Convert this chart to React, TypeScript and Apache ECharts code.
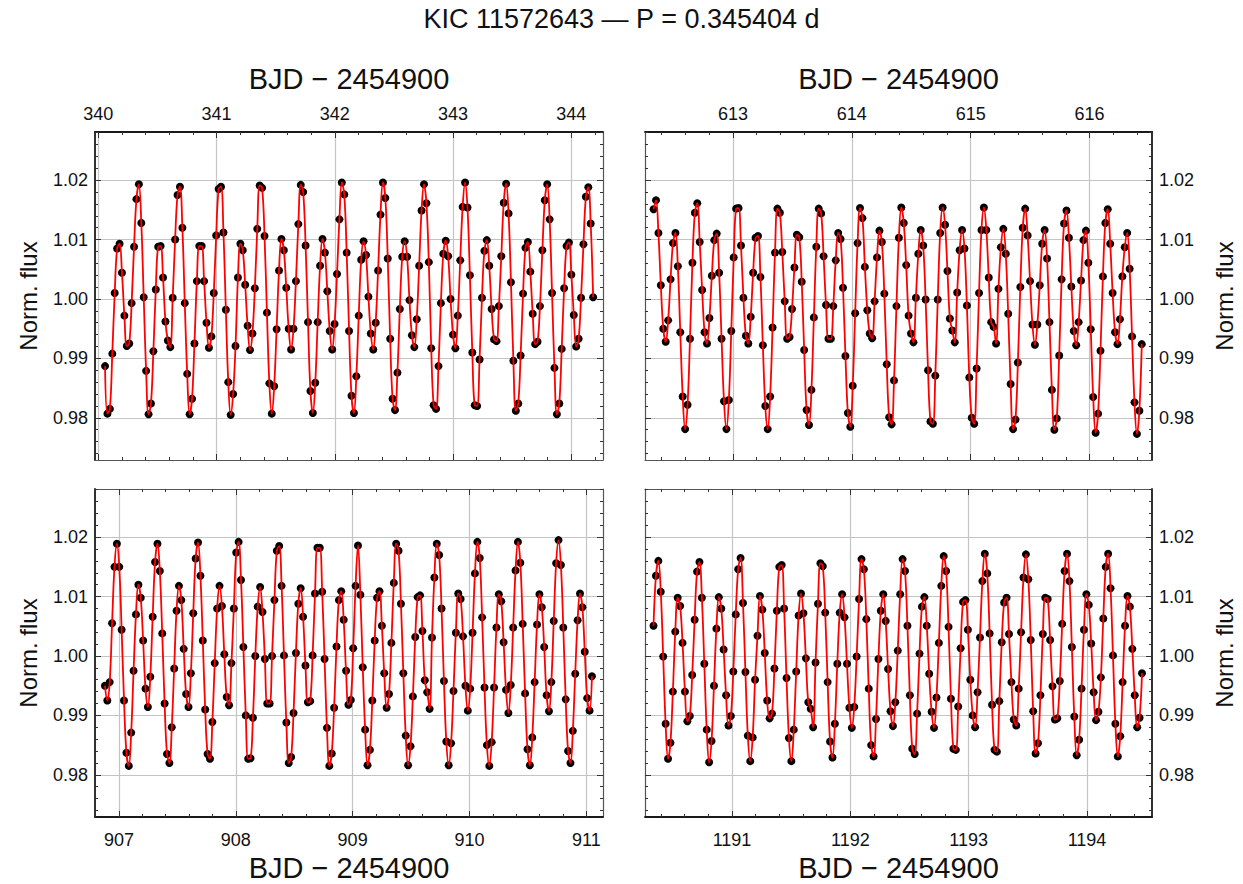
import React, { useEffect, useRef } from "react";
import * as echarts from "echarts";

// ---------- texts ----------
const TITLE = "KIC 11572643 — P = 0.345404 d";
const X_NAME = "BJD − 2454900";
const Y_NAME = "Norm. flux";

// ---------- sampling ----------
const CADENCE = 0.020433; // Kepler long cadence, days

// ---------- axes ----------
const Y_MIN = 0.9729;
const Y_MAX = 1.0281;
const Y_TICKS = [0.98, 0.99, 1.0, 1.01, 1.02];

const TL_XMIN = 339.972, TL_XMAX = 344.268, TL_T0 = 340.057;
const TL_XTICKS = [340, 341, 342, 343, 344];
const TR_XMIN = 612.26, TR_XMAX = 616.525, TR_T0 = 612.332;
const TR_XTICKS = [613, 614, 615, 616];
const BL_XMIN = 906.795, BL_XMAX = 911.143, BL_T0 = 906.88;
const BL_XTICKS = [907, 908, 909, 910, 911];
const BR_XMIN = 1190.265, BR_XMAX = 1194.549, BR_T0 = 1190.337;
const BR_XTICKS = [1191, 1192, 1193, 1194];

// ---------- data: normalised flux minus 1, in parts per thousand ----------
const TL_FLUX_PPT = [
  -11.3, -19.3, -18.5, -9.2, 1.0, 8.5, 9.3, 4.4, -2.8, -7.9,
  -7.5, -0.7, 8.8, 16.8, 19.3, 12.8, 0.3, -12.1, -19.4, -17.6,
  -8.8, 1.6, 8.8, 8.9, 3.6, -3.8, -7.0, -8.1, 0.2, 10.0,
  17.5, 18.9, 12.0, -0.7, -12.6, -19.4, -16.8, -7.5, 3.0, 8.9,
  8.9, 3.0, -4.0, -8.2, -6.3, 1.0, 10.7, 18.5, 18.9, 11.2,
  -1.8, -14.0, -19.5, -16.0, -7.9, 3.6, 9.3, 8.2, 2.4, -4.5,
  -8.6, -5.8, 1.8, 11.8, 19.1, 18.7, 10.6, -2.3, -14.2,
  -19.3, -14.7, -5.1, 4.8, 10.1, 8.2, 1.9, -5.0, -8.5, -5.0,
  3.0, 12.6, 19.2, 18.0, 9.0, -3.9, -15.5, -19.2, -14.1, -3.9,
  5.6, 10.1, 7.8, 1.3, -5.4, -8.5, -4.2, 4.2, 13.4, 19.6,
  17.6, 7.8, -5.4, -16.3, -19.2, -13.0, -2.8, 6.6, 9.7, 7.4,
  0.4, -5.8, -8.5, -4.0, 4.8, 14.2, 19.6, 17.0, 6.8, -6.7,
  -16.8, -18.7, -12.4, -1.7, 7.1, 9.7, 7.1, -0.2, -6.1, -8.1,
  -3.4, 5.6, 14.9, 19.3, 16.1, 6.2, -8.3, -17.9, -18.5, -11.3,
  -0.7, 7.6,
  9.8, 7.2, 0.0, -6.0, -8.3, -2.8, 6.5, 15.5, 19.6, 15.4, 4.0, -9.0, -17.9, -18.0,
  -10.2, 0.2, 8.1, 9.9, 5.6, -1.7, -6.8, -7.1, -1.2, 7.2, 16.2, 19.4, 14.4, 2.8, -10.4, -18.8, -17.6,
  -9.5, 0.9, 8.6, 9.6, 4.6, -2.5, -7.6, -7.2, -1.2, 8.2, 16.6, 19.3, 13.4, 1.0, -11.6, -19.4, -17.6,
  -8.4, 1.8, 8.9, 9.5, 4.1, -2.7, -8.0, -6.7, 0.2, 9.2, 17.2, 18.8, 12.7, 0.3,
];

const TR_FLUX_PPT = [
  15.1, 16.6, 11.1, 2.3, -5.0, -7.2, -3.6, 3.3, 9.4, 11.1, 5.5, -5.6, -16.4, -21.9,
  -17.8, -6.7, 6.1, 14.5, 16.1, 9.6, 1.5, -5.6, -7.5, -3.2, 3.9, 9.9, 11.0, 4.4, -6.7, -17.2, -21.9,
  -17.0, -5.4, 7.0, 15.2, 15.3, 9.0, 0.2, -6.2, -7.5, -3.0, 4.4, 10.3, 10.6, 3.7, -7.8, -18.0, -21.9,
  -16.4, -4.8, 7.8, 15.2, 14.5, 7.9, -0.4, -6.7, -6.4, -1.7, 5.3, 10.8, 10.4, 2.9, -8.6, -18.7, -21.2,
  -15.3, -3.1, 8.8, 15.2, 14.4, 7.2, -1.0, -6.7, -6.7, -1.2, 6.5, 11.1, 10.1, 1.9, -9.6, -19.2, -21.5,
  -14.6, -2.4, 9.4, 15.3, 13.6, 5.4, -1.9, -5.8, -6.6, -0.4, 7.0, 11.5, 9.6, 0.9, -11.0, -19.9, -21.1,
  -13.7, -1.2, 10.3, 15.4, 12.8, 5.7, -2.8, -5.8, -7.3, 0.2, 7.6, 11.6, 9.0, -0.1, -12.0, -20.6, -21.0,
  -12.9, -0.1, 11.1, 15.4, 12.5, 4.7, -3.3, -5.3, -7.3, 1.1, 8.2, 11.6, 8.5, -1.1, -13.2, -20.0, -21.0,
  -11.7, 1.0, 11.6, 15.4, 11.6, 3.6, -3.9, -4.7, -7.5, 1.7, 8.7, 11.8, 7.6, -2.5, -14.3, -21.9,
  -20.3, -10.7, 2.0, 12.0, 15.2, 10.7, 3.0, -4.3, -7.7, -4.3, 2.3, 9.3, 11.6, 6.8, -3.9, -15.3, -22.0,
  -20.1, -9.5, 3.3, 12.7, 14.9, 10.3, 2.1, -5.4, -7.8, -3.9, 3.1, 9.9, 11.5, 6.1, -5.1, -16.5, -22.5,
  -19.3, -8.7, 3.8, 12.8, 15.1, 9.3, 1.0, -5.6, -7.6, -3.4, 3.8, 8.7, 11.1, 5.1, -6.3, -17.4, -22.7,
  -18.8, -7.6,
];

const BL_FLUX_PPT = [
  -5.0, -7.5, -4.4, 5.5, 15.0, 18.9, 15.0, 4.4, -7.5, -16.3, -18.5,
  -12.9, -2.5, 7.0, 12.0, 9.8, 2.6, -5.5, -8.6, -3.5, 6.6, 15.8, 18.9, 14.3, 3.8, -8.0, -16.5, -18.0,
  -12.0, -2.1, 7.6, 11.8, 9.4, 1.2, -6.4, -8.6, -2.9, 7.2, 16.4, 19.1, 13.5, 2.6, -9.0, -16.5, -17.3,
  -11.1, -1.2, 8.0, 11.8, 8.4, 0.3, -6.9, -8.3, -1.2, 8.0, 17.4, 19.2, 12.8, 1.5, -10.0, -17.3,
  -17.2, -10.4, 0.0, 8.3, 11.6, 7.4, -0.5, -8.0, -8.0, 0.0, 9.4, 17.7, 18.5, 11.8, 0.1, -11.2, -18.0,
  -17.0, -9.6, 0.5, 8.8, 11.4, 6.6, -1.6, -7.8, -7.6, 0.1, 10.5, 18.2, 18.2, 10.8, -0.5, -12.1, -18.5,
  -16.4, -8.7, 1.6, 9.4, 10.9, 6.1, -2.5, -8.2, -7.4, 1.3, 11.8, 18.6, 10.3, -1.9, -12.4, -18.4,
  -15.8, -7.5, 2.6, 9.8, 10.9, 5.1, -2.9, -8.7, -6.4, 2.2, 12.3, 18.9, 17.7, 8.8, -2.9, -13.4, -18.4,
  -15.2, -6.8, 3.2, 9.9, 10.2, 4.2, -4.1, -6.1, -8.9, 3.1, 13.2, 18.9, 17.0, 8.0, -4.2, -14.4, -18.4,
  -14.7, -5.9, 3.9, 10.5, 9.6, 3.3, -5.0, -9.2, -5.5, 3.9, 13.9, 19.2, 16.5, 6.5, -5.3, -15.0, -18.5,
  -14.5, -5.3, 4.8, 10.4, 9.2, 2.3, -5.7, -9.6, -4.9, 4.8, 14.4, 19.2, 15.7, 5.4, -6.3, -15.7, -18.4,
  -13.7, -4.4, 5.3, 10.4, 8.2, 1.5, -6.6, -9.3, -4.4, 5.9, 15.6, 19.5, 15.3, 4.8, -7.3, -16.0, -18.0,
  -12.6, -3.0, 6.0, 10.5, 8.2, 0.7, -7.1, -9.2, -3.4,
];

const BR_FLUX_PPT = [
  5.1, 13.5, 16.0, 10.8, -0.1, -11.4, -17.3,
  -14.6, -6.0, 4.1, 9.8, 8.4, 2.2, -6.0, -11.0, -10.1, -3.2, 6.1, 14.2, 15.8, 9.8, -1.3, -12.4, -17.9,
  -14.3, -5.0, 4.6, 9.9, 8.0, 1.1, -6.6, -11.7, -10.1, -2.6, 7.0, 14.6, 16.5, 8.9, -2.7, -13.4, -17.7,
  -13.7, -4.0, 3.4, 10.1, 7.8, 0.5, -7.5, -10.5, -9.7, -2.1, 7.6, 15.0, 15.3, 8.0, -3.7, -13.8, -17.7,
  -12.4, -2.6, 6.8, 10.5, 7.2, -0.4, -7.8, -8.9, -12.0, -1.1, 8.8, 15.6, 15.1, 7.3, -4.4, -14.4, -17.1,
  -11.4, -1.3, 7.3, 10.4, 6.5, -1.3, -8.7, -12.1, -8.6, -0.1, 9.6, 16.3, 14.6, 6.2, -5.5, -15.0, -16.9,
  -10.6, -0.5, 7.6, 10.4, 5.9, -2.2, -9.3, -11.8, -7.8, 0.9, 10.4, 16.3, 14.3, 5.1, -6.6, -15.6, -16.5,
  -9.7, 0.4, 8.3, 9.9, 5.1, -3.0, -9.4, -12.1, -7.0, 2.2, 11.8, 16.8, 14.3, 4.9, -7.2, -15.6, -15.8,
  -8.5, 1.3, 9.1, 9.4, 4.4, -4.0, -10.0, -12.0, -6.1, 3.1, 12.6, 17.2, 13.9, 3.8, -8.2, -15.8, -16.1,
  -7.6, 2.3, 9.0, 9.8, 3.7, -4.4, -10.7, -11.7, -5.5, 4.0, 13.2, 17.1, 12.9, 2.7, -9.3, -16.4,
  -14.7, -6.6, 3.7, 9.8, 9.6, 2.7, -5.1, -10.7, -10.5, -4.2, 5.4, 14.3, 17.2, 12.6, 1.5, -10.2, -16.7,
  -14.1, -5.5, 4.4, 10.4, 8.6, 2.1, -6.1, -10.8, -9.4, -3.6, 6.3, 15.0, 17.2, 11.4, 0.1, -11.4, -16.9,
  -13.5, -4.4, 5.1, 10.1, 8.3, 1.2, -6.6, -12.0, -10.4, -2.9,
];

// ---------- layout / style ----------
const FONT = "'Liberation Sans', Arial, Helvetica, sans-serif";
const GRID_COLOR = "#c4c4c4";
const FRAME_MAIN = { color: "#1a1a1a", width: 1.8 };
const FRAME_MIRROR = { color: "#555", width: 1.2 };
const TICK_FONT = 18;
const X_NAME_FONT = 29;
const Y_NAME_FONT = 24;
const TITLE_FONT = 27;

type Panel = {
  t0: number;
  flux: number[];
  xMin: number;
  xMax: number;
  xTicks: number[];
  grid: { left: number; top: number; width: number; height: number };
  xSide: "top" | "bottom";
  ySide: "left" | "right";
};

const PANELS: Panel[] = [
  { t0: TL_T0, flux: TL_FLUX_PPT, xMin: TL_XMIN, xMax: TL_XMAX, xTicks: TL_XTICKS,
    grid: { left: 95, top: 132, width: 508, height: 328 }, xSide: "top", ySide: "left" },
  { t0: TR_T0, flux: TR_FLUX_PPT, xMin: TR_XMIN, xMax: TR_XMAX, xTicks: TR_XTICKS,
    grid: { left: 645, top: 132, width: 507, height: 328 }, xSide: "top", ySide: "right" },
  { t0: BL_T0, flux: BL_FLUX_PPT, xMin: BL_XMIN, xMax: BL_XMAX, xTicks: BL_XTICKS,
    grid: { left: 95, top: 489, width: 508, height: 328 }, xSide: "bottom", ySide: "left" },
  { t0: BR_T0, flux: BR_FLUX_PPT, xMin: BR_XMIN, xMax: BR_XMAX, xTicks: BR_XTICKS,
    grid: { left: 645, top: 489, width: 507, height: 328 }, xSide: "bottom", ySide: "right" },
];

function minorValues(min: number, max: number, perUnit: number, skipEvery: number) {
  const out: number[] = [];
  for (let k = Math.ceil(min * perUnit - 1e-9); k <= Math.floor(max * perUnit + 1e-9); k++) {
    if (k % skipEvery !== 0) out.push(k / perUnit);
  }
  return out;
}

function buildOption() {
  const grids: any[] = [];
  const xAxes: any[] = [];
  const yAxes: any[] = [];
  const series: any[] = [];

  PANELS.forEach((p, gi) => {
    grids.push({ ...p.grid, containLabel: false, outerBoundsMode: "none" });
    const xOther = p.xSide === "top" ? "bottom" : "top";
    const yOther = p.ySide === "left" ? "right" : "left";
    const xMinor = minorValues(p.xMin, p.xMax, 5, 5);
    const yMinor = minorValues(Y_MIN, Y_MAX, 500, 5);
    const xBase = { type: "value", gridIndex: gi, min: p.xMin, max: p.xMax, splitNumber: 5, scale: true };
    const yBase = { type: "value", gridIndex: gi, min: Y_MIN, max: Y_MAX, splitNumber: 5, scale: true };

    xAxes.push({
      ...xBase,
      position: p.xSide,
      name: X_NAME,
      nameLocation: "middle",
      nameGap: p.xSide === "top" ? 39 : 36,
      nameTextStyle: { fontSize: X_NAME_FONT, color: "#111", fontFamily: FONT },
      axisLine: { show: true, onZero: false, lineStyle: FRAME_MAIN },
      axisTick: { show: true, inside: true, length: 6, lineStyle: { color: "#333", width: 1 }, customValues: p.xTicks },
      axisLabel: {
        show: true, customValues: p.xTicks, showMinLabel: true, showMaxLabel: true, hideOverlap: false,
        fontSize: TICK_FONT, color: "#111", fontFamily: FONT, margin: p.xSide === "top" ? 9 : 14,
        formatter: (v: number) => String(Math.round(v)),
      },
      splitLine: { show: true, lineStyle: { color: GRID_COLOR, width: 1.2 } },
    });
    xAxes.push({
      ...xBase, position: xOther,
      axisLine: { show: true, onZero: false, lineStyle: FRAME_MIRROR },
      axisTick: { show: true, inside: true, length: 6, lineStyle: { color: "#333", width: 1 }, customValues: p.xTicks },
      axisLabel: { show: false }, splitLine: { show: false },
    });
    [p.xSide, xOther].forEach((side) => {
      xAxes.push({
        ...xBase, position: side,
        axisLine: { show: false, onZero: false },
        axisTick: { show: true, inside: true, length: 3, lineStyle: { color: "#333", width: 1 }, customValues: xMinor },
        axisLabel: { show: false }, splitLine: { show: false },
      });
    });

    yAxes.push({
      ...yBase,
      position: p.ySide,
      name: Y_NAME,
      nameLocation: "middle",
      nameGap: p.ySide === "left" ? 55 : 60,
      nameTextStyle: { fontSize: Y_NAME_FONT, color: "#111", fontFamily: FONT },
      axisLine: { show: true, onZero: false, lineStyle: FRAME_MAIN },
      axisTick: { show: true, inside: true, length: 6, lineStyle: { color: "#333", width: 1 }, customValues: Y_TICKS },
      axisLabel: {
        show: true, customValues: Y_TICKS, showMinLabel: true, showMaxLabel: true, hideOverlap: false,
        fontSize: TICK_FONT, color: "#111", fontFamily: FONT, margin: 7,
        formatter: (v: number) => v.toFixed(2),
      },
      splitLine: { show: true, lineStyle: { color: GRID_COLOR, width: 1.2 } },
    });
    yAxes.push({
      ...yBase, position: yOther,
      axisLine: { show: true, onZero: false, lineStyle: FRAME_MIRROR },
      axisTick: { show: true, inside: true, length: 6, lineStyle: { color: "#333", width: 1 }, customValues: Y_TICKS },
      axisLabel: { show: false }, splitLine: { show: false },
    });
    [p.ySide, yOther].forEach((side) => {
      yAxes.push({
        ...yBase, position: side,
        axisLine: { show: false, onZero: false },
        axisTick: { show: true, inside: true, length: 3, lineStyle: { color: "#333", width: 1 }, customValues: yMinor },
        axisLabel: { show: false }, splitLine: { show: false },
      });
    });

    const data = p.flux.map((v, i) => [p.t0 + i * CADENCE, 1 + v / 1000]);
    series.push({
      type: "scatter",
      xAxisIndex: gi * 4,
      yAxisIndex: gi * 4,
      data,
      symbol: "circle",
      symbolSize: 8,
      itemStyle: { color: "#000", opacity: 1 },
      z: 2,
      silent: true,
    });
    series.push({
      type: "line",
      xAxisIndex: gi * 4,
      yAxisIndex: gi * 4,
      data,
      smooth: 0.4,
      showSymbol: false,
      symbol: "none",
      lineStyle: { color: "#ff0000", width: 1.8 },
      z: 3,
      silent: true,
    });
  });

  return {
    animation: false,
    backgroundColor: "#ffffff",
    textStyle: { fontFamily: FONT },
    title: {
      text: TITLE,
      left: "center",
      top: 0,
      textStyle: { fontSize: TITLE_FONT, fontWeight: "normal", color: "#111", fontFamily: FONT },
    },
    grid: grids,
    xAxis: xAxes,
    yAxis: yAxes,
    series,
  };
}

export default function App() {
  const ref = useRef<HTMLDivElement>(null);
  useEffect(() => {
    if (!ref.current) return;
    const chart = echarts.init(ref.current, undefined, { renderer: "svg" });
    chart.setOption(buildOption() as any);
    return () => chart.dispose();
  }, []);
  return (
    <div
      ref={ref}
      style={{ position: "fixed", left: 0, top: 0, width: 1243, height: 884, background: "#fff" }}
    />
  );
}
